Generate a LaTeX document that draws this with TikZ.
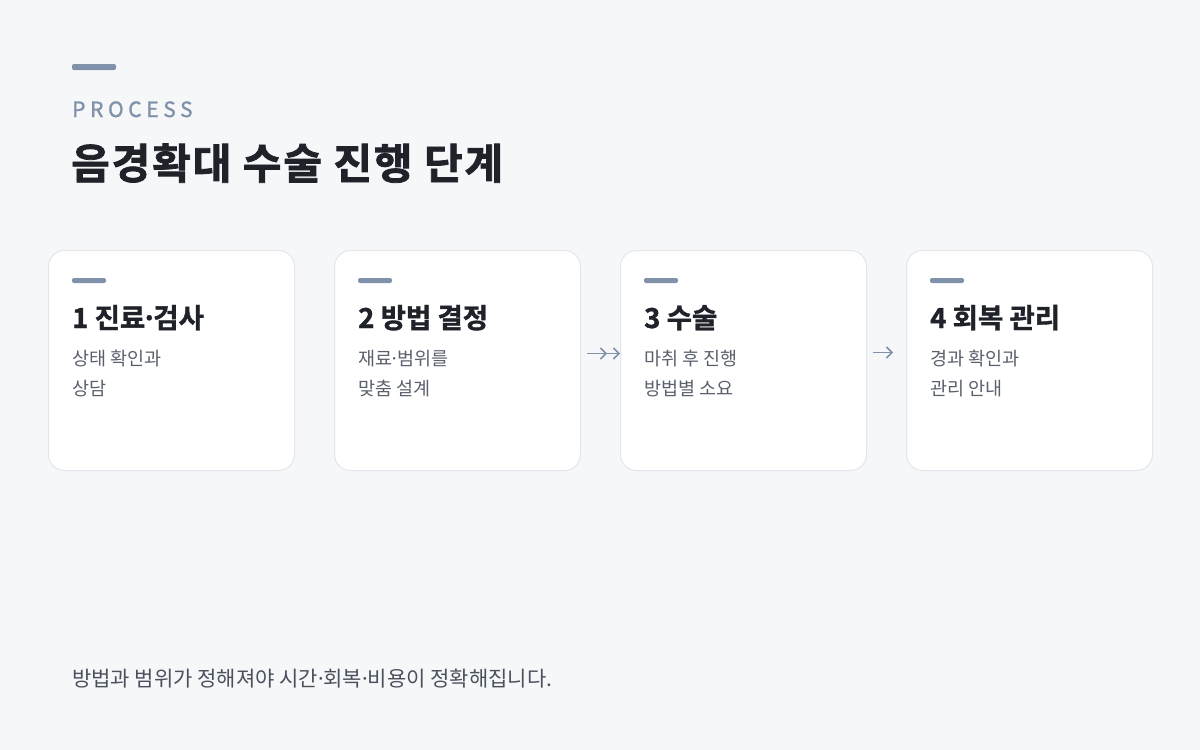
\documentclass[tikz,border=0pt]{standalone}
\usepackage{fontspec}
\usetikzlibrary{arrows.meta}
\setmainfont{Noto Sans CJK KR}
\newfontfamily\krspaced{Noto Sans CJK KR}[LetterSpace=22, FakeBold=1.2]
\newfontfamily\krtitle{Noto Sans CJK KR}[UprightFont=* Bold, LetterSpace=4.5, FakeBold=1.8]
\newfontfamily\krcard{Noto Sans CJK KR}[UprightFont=* Bold, FakeBold=1.4]
\newcommand\mdotsep{\kern-0.15em·\kern-0.15em}
\definecolor{bgc}{HTML}{F6F7F9}
\definecolor{accent}{HTML}{7F92AA}
\definecolor{titlec}{HTML}{1F2329}
\definecolor{descc}{HTML}{5A616D}
\definecolor{footc}{HTML}{4A515D}
\definecolor{borderc}{HTML}{E3E6EA}
\tikzset{
  card/.style={draw=borderc, line width=1pt, fill=white, rounded corners=16pt,
    minimum width=246pt, minimum height=220pt, anchor=north west, inner sep=0pt},
  bar/.style={fill=accent, rounded corners=2pt, draw=none},
  cardtitle/.style={anchor=base west, inner sep=0pt, text=titlec, font=\krcard\fontsize{27.5}{30}\selectfont},
  carddesc/.style={anchor=base west, inner sep=0pt, text=descc, font=\fontsize{18.5}{29.5}\selectfont, align=left},
  flow/.style={draw=accent, line width=1.5pt, -{Straight Barb[length=5.5pt,width=11pt,line width=1.5pt]}},
}
\begin{document}
\begin{tikzpicture}[x=1pt,y=-1pt]
\useasboundingbox[fill=bgc] (0,0) rectangle (1200,750);
\path[bar] (72,64) rectangle (116,70);
\node[anchor=base west, inner sep=0pt, text=accent, font=\krspaced\fontsize{21}{24}\selectfont] (kicker) at (72,117) {PROCESS};
\node[anchor=base west, inner sep=0pt, text=titlec, font=\krtitle\fontsize{42}{46}\selectfont] (title) at (71,179) {음경확대 수술 진행 단계};
\foreach \i/\x/\t/\d in {1/48/{1 진료\mdotsep 검사}/{상태 확인과\\상담},
                         2/334/{2 방법 결정}/{재료\mdotsep 범위를\\맞춤 설계},
                         3/620/{3 수술}/{마취 후 진행\\방법별 소요},
                         4/906/{4 회복 관리}/{경과 확인과\\관리 안내}}{
  \node[card] (card\i) at (\x,250) {};
  \path[bar] (\x+24,278) rectangle (\x+58,283);
  \node[cardtitle] (ct\i) at (\x+24,328) {\t};
  \node[carddesc] (cd\i) at (\x+24,395) {\d};
}
\draw[flow] ([xshift=6pt,yshift=7pt]card2.east) -- ([xshift=-13pt,yshift=7pt]card3.west);
\draw[flow] ([xshift=6pt,yshift=7pt]card2.east) -- ([xshift=0pt,yshift=7pt]card3.west);
\draw[flow] ([xshift=6pt,yshift=8pt]card3.east) -- ([xshift=-13pt,yshift=8pt]card4.west);
\node[anchor=base west, inner sep=0pt, text=footc, font=\fontsize{21}{24}\selectfont] (foot) at (72,686) {방법과 범위가 정해져야 시간\mdotsep 회복\mdotsep 비용이 정확해집니다.};
\end{tikzpicture}
\end{document}
